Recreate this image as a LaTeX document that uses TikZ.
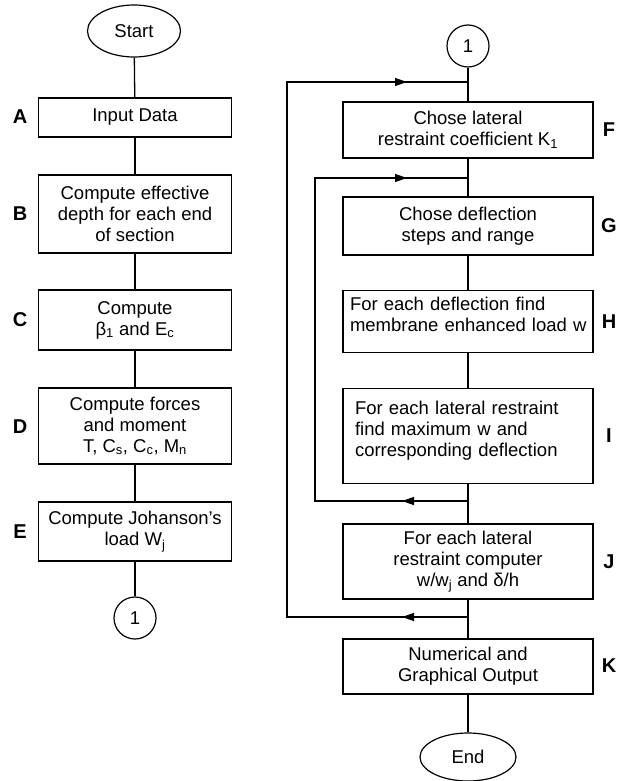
\documentclass[tikz,border=0pt]{standalone}
\usepackage{fontspec}
\setmainfont{Liberation Sans}
\usetikzlibrary{shapes.geometric,arrows.meta,decorations.markings}

\begin{document}
\begin{tikzpicture}[x=1pt,y=-1pt,
    every node/.style={font=\fontsize{18.5}{21}\selectfont},
    block/.style={draw,shape=rectangle,line width=1.3pt,align=center,minimum width=193pt},
    wblock/.style={block,minimum width=250pt},
    lblock/.style={wblock,align=left,anchor=north,inner xsep=0pt,inner ysep=0pt},
    term/.style={draw,shape=ellipse,line width=1.2pt,inner sep=0pt},
    conn/.style={draw,shape=circle,line width=1.2pt,minimum size=42pt,inner sep=0pt},
    tag/.style={font=\fontsize{20}{24}\selectfont\bfseries},
    line/.style={draw,line width=1.3pt},
    loopline/.style={line,postaction={decorate},
      decoration={markings,
        mark=at position 66pt with {\arrow{Triangle[length=12pt,width=8pt]}},
        mark=at position -61pt with {\arrow{Triangle[length=12pt,width=8pt]}}}}]
  \useasboundingbox (0,0) rectangle (618,781);

  % first column
  \node[term,minimum width=93pt,minimum height=52pt] (start) at (134,31) {Start};
  \node[block,minimum height=39pt] (A) at (135,117.5) {Input Data};
  \node[block,minimum height=78pt] (B) at (135,214) {Compute effective\\depth for each end\\of section};
  \node[block,minimum height=60pt] (C) at (135,320) {Compute\\β\textsubscript{1} and E\textsubscript{c}};
  \node[block,minimum height=76pt] (D) at (135,426) {Compute forces\\and moment\\T, C\textsubscript{s}, C\textsubscript{c}, M\textsubscript{n}};
  \node[block,minimum height=59pt] (E) at (135,531.5) {Compute Johanson's\\load W\textsubscript{j}};
  \node[conn] (off1) at (135,618) {1};

  % second column
  \node[conn] (on1) at (468,46) {1};
  \node[wblock,minimum height=56pt] (F) at (468,130) {Chose lateral\\restraint coefficient K\textsubscript{1}};
  \node[wblock,minimum height=58pt] (G) at (468,226) {Chose deflection\\steps and range};
  \node[lblock,text width=236pt,text height=20pt,text depth=42pt] (H) at (468,290)
    {\mbox{For each deflection find}\\\mbox{membrane enhanced load w}};
  \node[lblock,text width=226pt,text height=26pt,text depth=69pt] (I) at (468,388)
    {For each lateral restraint\\find maximum w and\\corresponding deflection};
  \node[wblock,minimum height=75pt] (J) at (468,561.5) {For each lateral\\restraint computer\\w/w\textsubscript{j} and δ/h};
  \node[wblock,minimum height=55pt] (K) at (468,666.5) {Numerical and\\Graphical Output};
  \node[term,minimum width=96pt,minimum height=48pt] (end) at (468,757) {End};

  % step letters
  \node[tag] (tA) at (20,117) {A};
  \node[tag] (tB) at (20,214) {B};
  \node[tag] (tC) at (20,320) {C};
  \node[tag] (tD) at (20,427) {D};
  \node[tag] (tE) at (20,532) {E};
  \node[tag] (tF) at (609,130) {F};
  \node[tag] (tG) at (609,226) {G};
  \node[tag] (tH) at (609,322) {H};
  \node[tag] (tI) at (609,436) {I};
  \node[tag] (tJ) at (609,562) {J};
  \node[tag] (tK) at (609,666) {K};

  % loop junctions on the main line
  \coordinate (cf) at (468,82);
  \coordinate (fg) at (468,178);
  \coordinate (ij) at (468,501);
  \coordinate (jk) at (468,617);

  \path[line] (start) edge (A);
  \path[line] (A) edge (B);
  \path[line] (B) edge (C);
  \path[line] (C) edge (D);
  \path[line] (D) edge (E);
  \path[line] (E) edge (off1);

  \path[line] (on1) edge (F);
  \path[line] (F) edge (G);
  \path[line] (G) edge (H);
  \path[line] (H) edge (I);
  \path[line] (I) edge (J);
  \path[line] (J) edge (K);
  \path[line] (K) edge (end);

  \draw[loopline] (jk) -- ++(-181,0) |- (cf);
  \draw[loopline] (ij) -- ++(-153,0) |- (fg);
\end{tikzpicture}
\end{document}
